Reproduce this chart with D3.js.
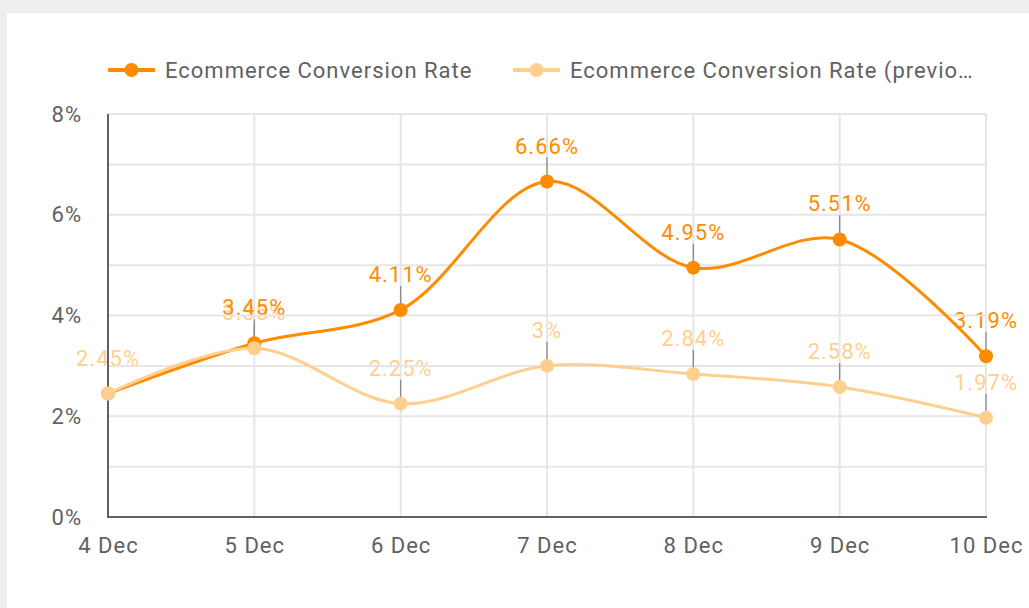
<!DOCTYPE html>
<html>
<head>
<meta charset="utf-8">
<script src="https://cdn.jsdelivr.net/npm/d3@7"></script>
<style>
  html, body { margin: 0; padding: 0; background: #eeeeee; }
  svg { display: block; font-family: Roboto, sans-serif; letter-spacing: 1px; }
</style>
</head>
<body>
<div id="vis"></div>
<script>
// chart data
const dates = ["4 Dec", "5 Dec", "6 Dec", "7 Dec", "8 Dec", "9 Dec", "10 Dec"];
const current = [2.45, 3.45, 4.11, 6.66, 4.95, 5.51, 3.19];
const previous = [2.45, 3.35, 2.25, 3.00, 2.84, 2.58, 1.97];
const seriesNames = ["Ecommerce Conversion Rate", "Ecommerce Conversion Rate (previous period)"];
const yTicks = [0, 2, 4, 6, 8];

const width = 1029, height = 608;
const margin = { top: 114, right: 43, bottom: 91, left: 108 };
const colors = ["#ff8c00", "#ffcf8f"];
const textColor = "#616161";
const fontSize = "22px";

const svg = d3.select("#vis").append("svg")
    .attr("width", width)
    .attr("height", height);

// white card
svg.append("rect")
    .attr("x", 7).attr("y", 13)
    .attr("width", width - 7).attr("height", height - 13)
    .attr("fill", "#fff");

const x = d3.scalePoint()
    .domain(dates)
    .range([margin.left, width - margin.right]);

const y = d3.scaleLinear()
    .domain([0, 8])
    .range([height - margin.bottom, margin.top]);

const series = [
  { name: seriesNames[0], values: current, color: colors[0] },
  { name: seriesNames[1], values: previous, color: colors[1] }
];

// data labels: previous period first so current sits on top,
// a current label that would sit exactly on a previous one is hidden
const labelData = [];
series.slice().reverse().forEach(s => s.values.forEach((v, i) =>
  labelData.push({ s: s.name, i, v, color: s.color })));
const shown = labelData.filter(d => d.s === seriesNames[1] ||
  !labelData.some(o => o.s === seriesNames[1] && o.i === d.i && Math.abs(o.v - d.v) < 0.05));

svg.append("g")
    .style("font-size", fontSize)
    .attr("text-anchor", "middle")
  .selectAll("text")
  .data(shown)
  .join("text")
    .attr("x", d => x(dates[d.i]))
    .attr("y", d => y(d.v) - 28)
    .attr("fill", d => d.color)
    .text(d => d3.format(".3~")(d.v) + "%");

// grid
const grid = svg.append("g");
grid.selectAll(".h")
  .data(d3.range(1, 9))
  .join("line")
    .attr("x1", margin.left).attr("x2", width - margin.right)
    .attr("y1", d => y(d)).attr("y2", d => y(d))
    .attr("stroke", "#e6e6e6")
    .attr("stroke-width", 2);
grid.selectAll(".v")
  .data(dates.slice(1))
  .join("line")
    .attr("x1", d => x(d)).attr("x2", d => x(d))
    .attr("y1", y(8)).attr("y2", y(0))
    .attr("stroke", "#e6e6e6")
    .attr("stroke-width", 2);

// leader lines from labels to points
svg.append("g")
  .selectAll("line")
  .data(shown)
  .join("line")
    .attr("x1", d => x(dates[d.i])).attr("x2", d => x(dates[d.i]))
    .attr("y1", d => y(d.v) - 24).attr("y2", d => y(d.v))
    .attr("stroke", "#8a8a8a")
    .attr("stroke-width", 1.3);

// axes
const yAxis = svg.append("g")
    .attr("transform", `translate(${margin.left},0)`)
    .call(d3.axisLeft(y).tickValues(yTicks).tickFormat(d => d + "%").tickSize(0).tickPadding(26));
yAxis.select(".domain").remove();
yAxis.selectAll("text").attr("fill", textColor).style("font-size", fontSize).style("font-family", "Roboto");

const xAxis = svg.append("g")
    .attr("transform", `translate(0,${y(0)})`)
    .call(d3.axisBottom(x).tickSize(0).tickPadding(20));
xAxis.select(".domain").remove();
xAxis.selectAll("text").attr("fill", textColor).style("font-size", fontSize).style("font-family", "Roboto");

svg.append("line")
    .attr("x1", margin.left).attr("x2", margin.left)
    .attr("y1", y(8)).attr("y2", y(0))
    .attr("stroke", "#616161").attr("stroke-width", 2);
svg.append("line")
    .attr("x1", margin.left - 1).attr("x2", width - margin.right + 1)
    .attr("y1", y(0)).attr("y2", y(0))
    .attr("stroke", "#616161").attr("stroke-width", 2);

// lines and points
const line = d3.line()
    .x((d, i) => x(dates[i]))
    .y(d => y(d))
    .curve(d3.curveCatmullRom.alpha(0.5));

const sg = svg.append("g")
  .selectAll("g")
  .data(series)
  .join("g");

sg.append("path")
    .attr("d", d => line(d.values))
    .attr("fill", "none")
    .attr("stroke", d => d.color)
    .attr("stroke-width", 3);

sg.selectAll("circle")
  .data(d => d.values.map((v, i) => ({ v, i, color: d.color })))
  .join("circle")
    .attr("cx", d => x(dates[d.i]))
    .attr("cy", d => y(d.v))
    .attr("r", 7)
    .attr("fill", d => d.color);

// legend
const legend = svg.append("g")
    .style("font-size", fontSize);
const legendX = [108, 513];
const item = legend.selectAll("g")
  .data(series)
  .join("g")
    .attr("transform", (d, i) => `translate(${legendX[i]},70)`);
item.append("line")
    .attr("x1", 0).attr("x2", 47)
    .attr("stroke", d => d.color)
    .attr("stroke-width", 4);
item.append("circle")
    .attr("cx", 23.5)
    .attr("r", 7)
    .attr("fill", d => d.color);
item.append("text")
    .attr("x", 57)
    .attr("dy", "0.35em")
    .attr("fill", textColor)
    .text((d, i) => i === 1 ? "Ecommerce Conversion Rate (previo\u2026" : d.name);
</script>
</body>
</html>
